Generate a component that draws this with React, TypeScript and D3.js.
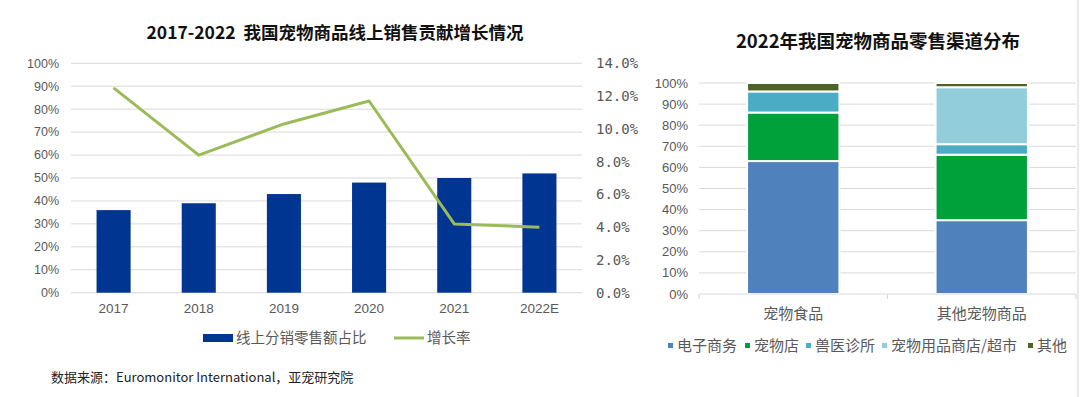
import React from 'react';
import * as d3 from 'd3';

// left chart: online share + growth
const years = ['2017', '2018', '2019', '2020', '2021', '2022E'];
const onlineShare = [36, 39, 43, 48, 50, 52];
const growthRate = [12.5, 8.4, 10.3, 11.7, 4.2, 4.0];
const leftTicks = [0, 10, 20, 30, 40, 50, 60, 70, 80, 90, 100];
const rightTicks = [0, 2, 4, 6, 8, 10, 12, 14];

// right chart: channel distribution 2022
const categories = ['宠物食品', '其他宠物商品'];
const channels = ['电子商务', '宠物店', '兽医诊所', '宠物用品商店/超市', '其他'];
const ecommerce = [63, 35];
const petStore = [23, 31];
const vetClinic = [10, 5];
const superStore = [0, 27];
const others = [4, 2];
const channelColors = ['#4f81bd', '#00a03a', '#4bacc6', '#92cddc', '#4f6228'];

const FONT = '"Noto Sans CJK SC", "Noto Sans", sans-serif';
const GRID = '#d9d9d9';
const LABEL = '#595959';

function LeftChart() {
	const x = d3.scaleBand().domain(years).range([71, 582]).paddingInner(0.6).paddingOuter(0.3);
	const y = d3.scaleLinear().domain([0, 100]).range([292.7, 63.3]);
	const y2 = d3.scaleLinear().domain([0, 14]).range([292.7, 63.3]);
	const line = d3.line<number>()
		.x((d, i) => x(years[i])! + x.bandwidth() / 2)
		.y(d => y2(d));

	return (
		<g>
			<text x={335} y={39} textAnchor="middle" fontSize={17.5} fontWeight="bold" fill="#111" fontFamily={FONT} style={{ whiteSpace: 'pre' }}>
				{'2017-2022  我国宠物商品线上销售贡献增长情况'}
			</text>
			{leftTicks.map(t => (
				<g key={t}>
					<line x1={71} x2={582} y1={y(t)} y2={y(t)} stroke={GRID} strokeWidth={1} />
					<text x={59} y={y(t)} dy="0.35em" textAnchor="end" fontSize={12.5} fill={LABEL} fontFamily='"Liberation Sans", sans-serif'>
						{t}%
					</text>
				</g>
			))}
			{rightTicks.map(t => (
				<text key={t} x={596} y={y2(t)} dy="0.35em" fontSize={14} fill={LABEL} fontFamily='"DejaVu Sans Mono", monospace'>
					{t.toFixed(1)}%
				</text>
			))}
			{onlineShare.map((v, i) => (
				<rect key={i} x={x(years[i])} y={y(v)} width={x.bandwidth()} height={y(0) - y(v)} fill="#003591" />
			))}
			<path d={line(growthRate)!} fill="none" stroke="#9bbb59" strokeWidth={3} strokeLinejoin="round" />
			{years.map(yr => (
				<text key={yr} x={x(yr)! + x.bandwidth() / 2} y={313} textAnchor="middle" fontSize={13.5} fill={LABEL} fontFamily='"Liberation Sans", sans-serif'>
					{yr}
				</text>
			))}
			<rect x={203} y={334} width={30} height={8} fill="#003591" />
			<text x={236} y={343} fontSize={14.5} fill={LABEL} fontFamily={FONT}>线上分销零售额占比</text>
			<line x1={394} x2={424} y1={338} y2={338} stroke="#9bbb59" strokeWidth={3} />
			<text x={427} y={343} fontSize={14.5} fill={LABEL} fontFamily={FONT}>增长率</text>
			<text x={51} y={382} fontSize={13} fill="#222" fontFamily={FONT}>
				数据来源：Euromonitor International，亚宠研究院
			</text>
		</g>
	);
}

function RightChart() {
	const x = d3.scaleBand().domain(categories).range([699, 1076]).paddingInner(0.51).paddingOuter(0.255);
	const y = d3.scaleLinear().domain([0, 100]).range([294, 83]);
	const rows = categories.map((c, i) => ({
		cat: c,
		[channels[0]]: ecommerce[i],
		[channels[1]]: petStore[i],
		[channels[2]]: vetClinic[i],
		[channels[3]]: superStore[i],
		[channels[4]]: others[i],
	}));
	const series = d3.stack<any>().keys(channels)(rows);
	const legendX = [668, 745, 806, 882, 1028];

	return (
		<g>
			<text x={878} y={48} textAnchor="middle" fontSize={18.5} fontWeight="bold" fill="#111" fontFamily={FONT}>
				2022年我国宠物商品零售渠道分布
			</text>
			{leftTicks.map(t => (
				<g key={t}>
					{t > 0 && <line x1={699} x2={1076} y1={y(t)} y2={y(t)} stroke={GRID} strokeWidth={1} />}
					<text x={688} y={y(t)} dy="0.35em" textAnchor="end" fontSize={13} fill={LABEL} fontFamily='"Liberation Sans", sans-serif'>
						{t}%
					</text>
				</g>
			))}
			{series.map((s, si) => (
				<g key={s.key} fill={channelColors[si]}>
					{s.map((d, i) => d[1] - d[0] > 0 ? (
						<rect key={i} x={x(categories[i])} y={y(d[1])} width={x.bandwidth()} height={y(d[0]) - y(d[1])}
							stroke="#fff" strokeWidth={2} />
					) : null)}
				</g>
			))}
			<line x1={699} x2={1076} y1={294} y2={294} stroke={GRID} strokeWidth={1.2} />
			{[699, 887.5, 1076].map(tx => (
				<line key={tx} x1={tx} x2={tx} y1={294} y2={299} stroke={GRID} strokeWidth={1.2} />
			))}
			<line x1={1078} x2={1078} y1={0} y2={397} stroke="#e3e3e3" strokeWidth={1.5} />
			{categories.map(c => (
				<text key={c} x={x(c)! + x.bandwidth() / 2} y={319} textAnchor="middle" fontSize={15} fill={LABEL} fontFamily={FONT}>
					{c}
				</text>
			))}
			{channels.map((ch, i) => (
				<g key={ch}>
					<rect x={legendX[i]} y={343} width={5} height={5} fill={channelColors[i]} />
					<text x={legendX[i] + 9} y={351} fontSize={15} fill={LABEL} fontFamily={FONT}>{ch}</text>
				</g>
			))}
		</g>
	);
}

export default function App() {
	return (
		<svg width={1080} height={397} style={{ position: 'absolute', left: 0, top: 0, background: '#fff' }}>
			<rect width={1080} height={397} fill="#fff" />
			<LeftChart />
			<RightChart />
		</svg>
	);
}
